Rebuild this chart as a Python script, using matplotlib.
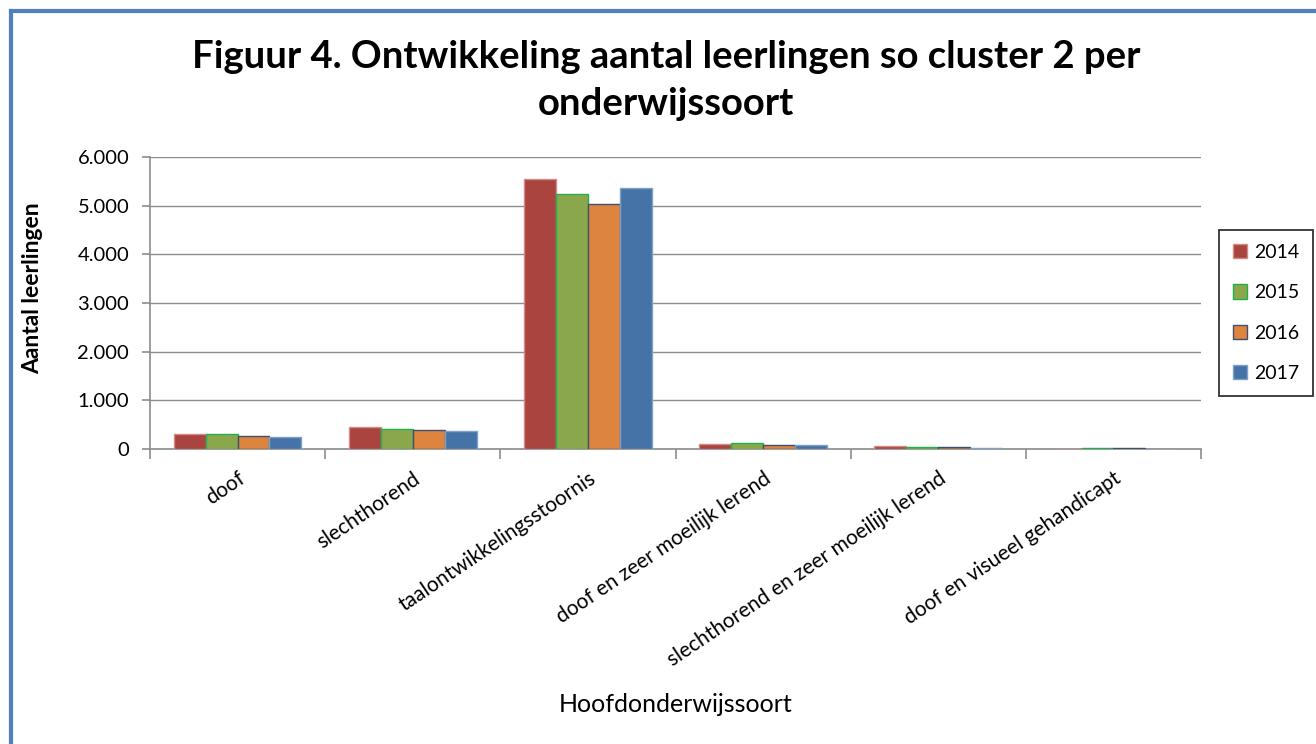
import matplotlib
matplotlib.use('Agg')
import matplotlib.pyplot as plt
from matplotlib.ticker import FuncFormatter, FixedLocator
from matplotlib.lines import Line2D
import numpy as np

plt.rcParams['font.family'] = ['Lato', 'DejaVu Sans']

# data
categories = ['doof', 'slechthorend', 'taalontwikkelingsstoornis',
              'doof en zeer moeilijk lerend',
              'slechthorend en zeer moeilijk lerend',
              'doof en visueel gehandicapt']
years = ['2014', '2015', '2016', '2017']
v2014 = [305, 458, 5540, 97, 55, 0]
v2015 = [300, 410, 5240, 117, 50, 20]
v2016 = [270, 390, 5040, 90, 48, 20]
v2017 = [250, 368, 5355, 90, 30, 0]
series = [v2014, v2015, v2016, v2017]

face = ['#A9443F', '#8BA74C', '#DD843F', '#4573A7']
edge = ['#D48A86', '#22B04F', '#3F4F6F', '#7FA0C8']

fig = plt.figure(figsize=(13.16, 7.44), dpi=100)
W, H = 1316, 744
ax = fig.add_axes([150 / W, 1 - 449 / H, (1201 - 150) / W, (449 - 157) / H])

x = np.arange(len(categories))
bw = 0.182
for i, vals in enumerate(series):
    ax.bar(x + (i - 1.5) * bw, vals, bw, color=face[i], edgecolor=edge[i],
           linewidth=1.0, label=years[i], zorder=3)

ax.set_xlim(-0.5, len(categories) - 0.5)
ax.set_ylim(0, 6000)
ax.set_yticks(np.arange(0, 6001, 1000))
ax.yaxis.set_major_formatter(FuncFormatter(lambda v, p: f'{int(v):,}'.replace(',', '.')))
ax.grid(axis='y', color='#8C8C8C', linewidth=1.0, zorder=0)

ax.xaxis.set_major_locator(FixedLocator(np.arange(-0.5, len(categories), 1.0)))
ax.xaxis.set_major_formatter(FuncFormatter(lambda v, p: ''))
ax.xaxis.set_minor_locator(FixedLocator(x))
ax.set_xticklabels(categories, minor=True, rotation=34, ha='right',
                   rotation_mode='anchor', fontsize=15)
ax.tick_params(axis='x', which='minor', length=0, pad=14)
ax.tick_params(axis='x', which='major', length=7, color='#8C8C8C', width=1.2)
ax.tick_params(axis='y', length=6, color='#8C8C8C', width=1.2, labelsize=14.5, pad=9)

for s in ['top', 'right']:
    ax.spines[s].set_visible(False)
for s in ['left', 'bottom']:
    ax.spines[s].set_color('#8C8C8C')
    ax.spines[s].set_linewidth(1.2)

fig.text(33 / W, 1 - 288 / H, 'Aantal leerlingen', rotation=90, ha='center',
         va='center', fontsize=16.5, fontweight='bold')
fig.text(676 / W, 1 - 705 / H, 'Hoofdonderwijssoort', ha='center', va='center',
         fontsize=18)

fig.text(666 / W, 1 - 57 / H, 'Figuur 4. Ontwikkeling aantal leerlingen so cluster 2 per',
         ha='center', va='center', fontsize=27.5, fontweight='bold')
fig.text(666 / W, 1 - 104 / H, 'onderwijssoort',
         ha='center', va='center', fontsize=27.5, fontweight='bold')

leg = fig.legend(loc='center', bbox_to_anchor=(1266 / W, 1 - 313 / H),
                 fontsize=14, frameon=True, fancybox=False, edgecolor='black',
                 handlelength=0.75, handleheight=0.75, handletextpad=0.35,
                 labelspacing=1.2, borderpad=0.7)
leg.get_frame().set_linewidth(1.3)

# blue chart border, only left and top are visible in the crop
fig.add_artist(Line2D([11 / W, 11 / W], [0, 1 - 11 / H], color='#4F81BD', lw=3))
fig.add_artist(Line2D([11 / W, 1], [1 - 11 / H, 1 - 11 / H], color='#4F81BD', lw=3))

fig.savefig('out.png', dpi=100)
